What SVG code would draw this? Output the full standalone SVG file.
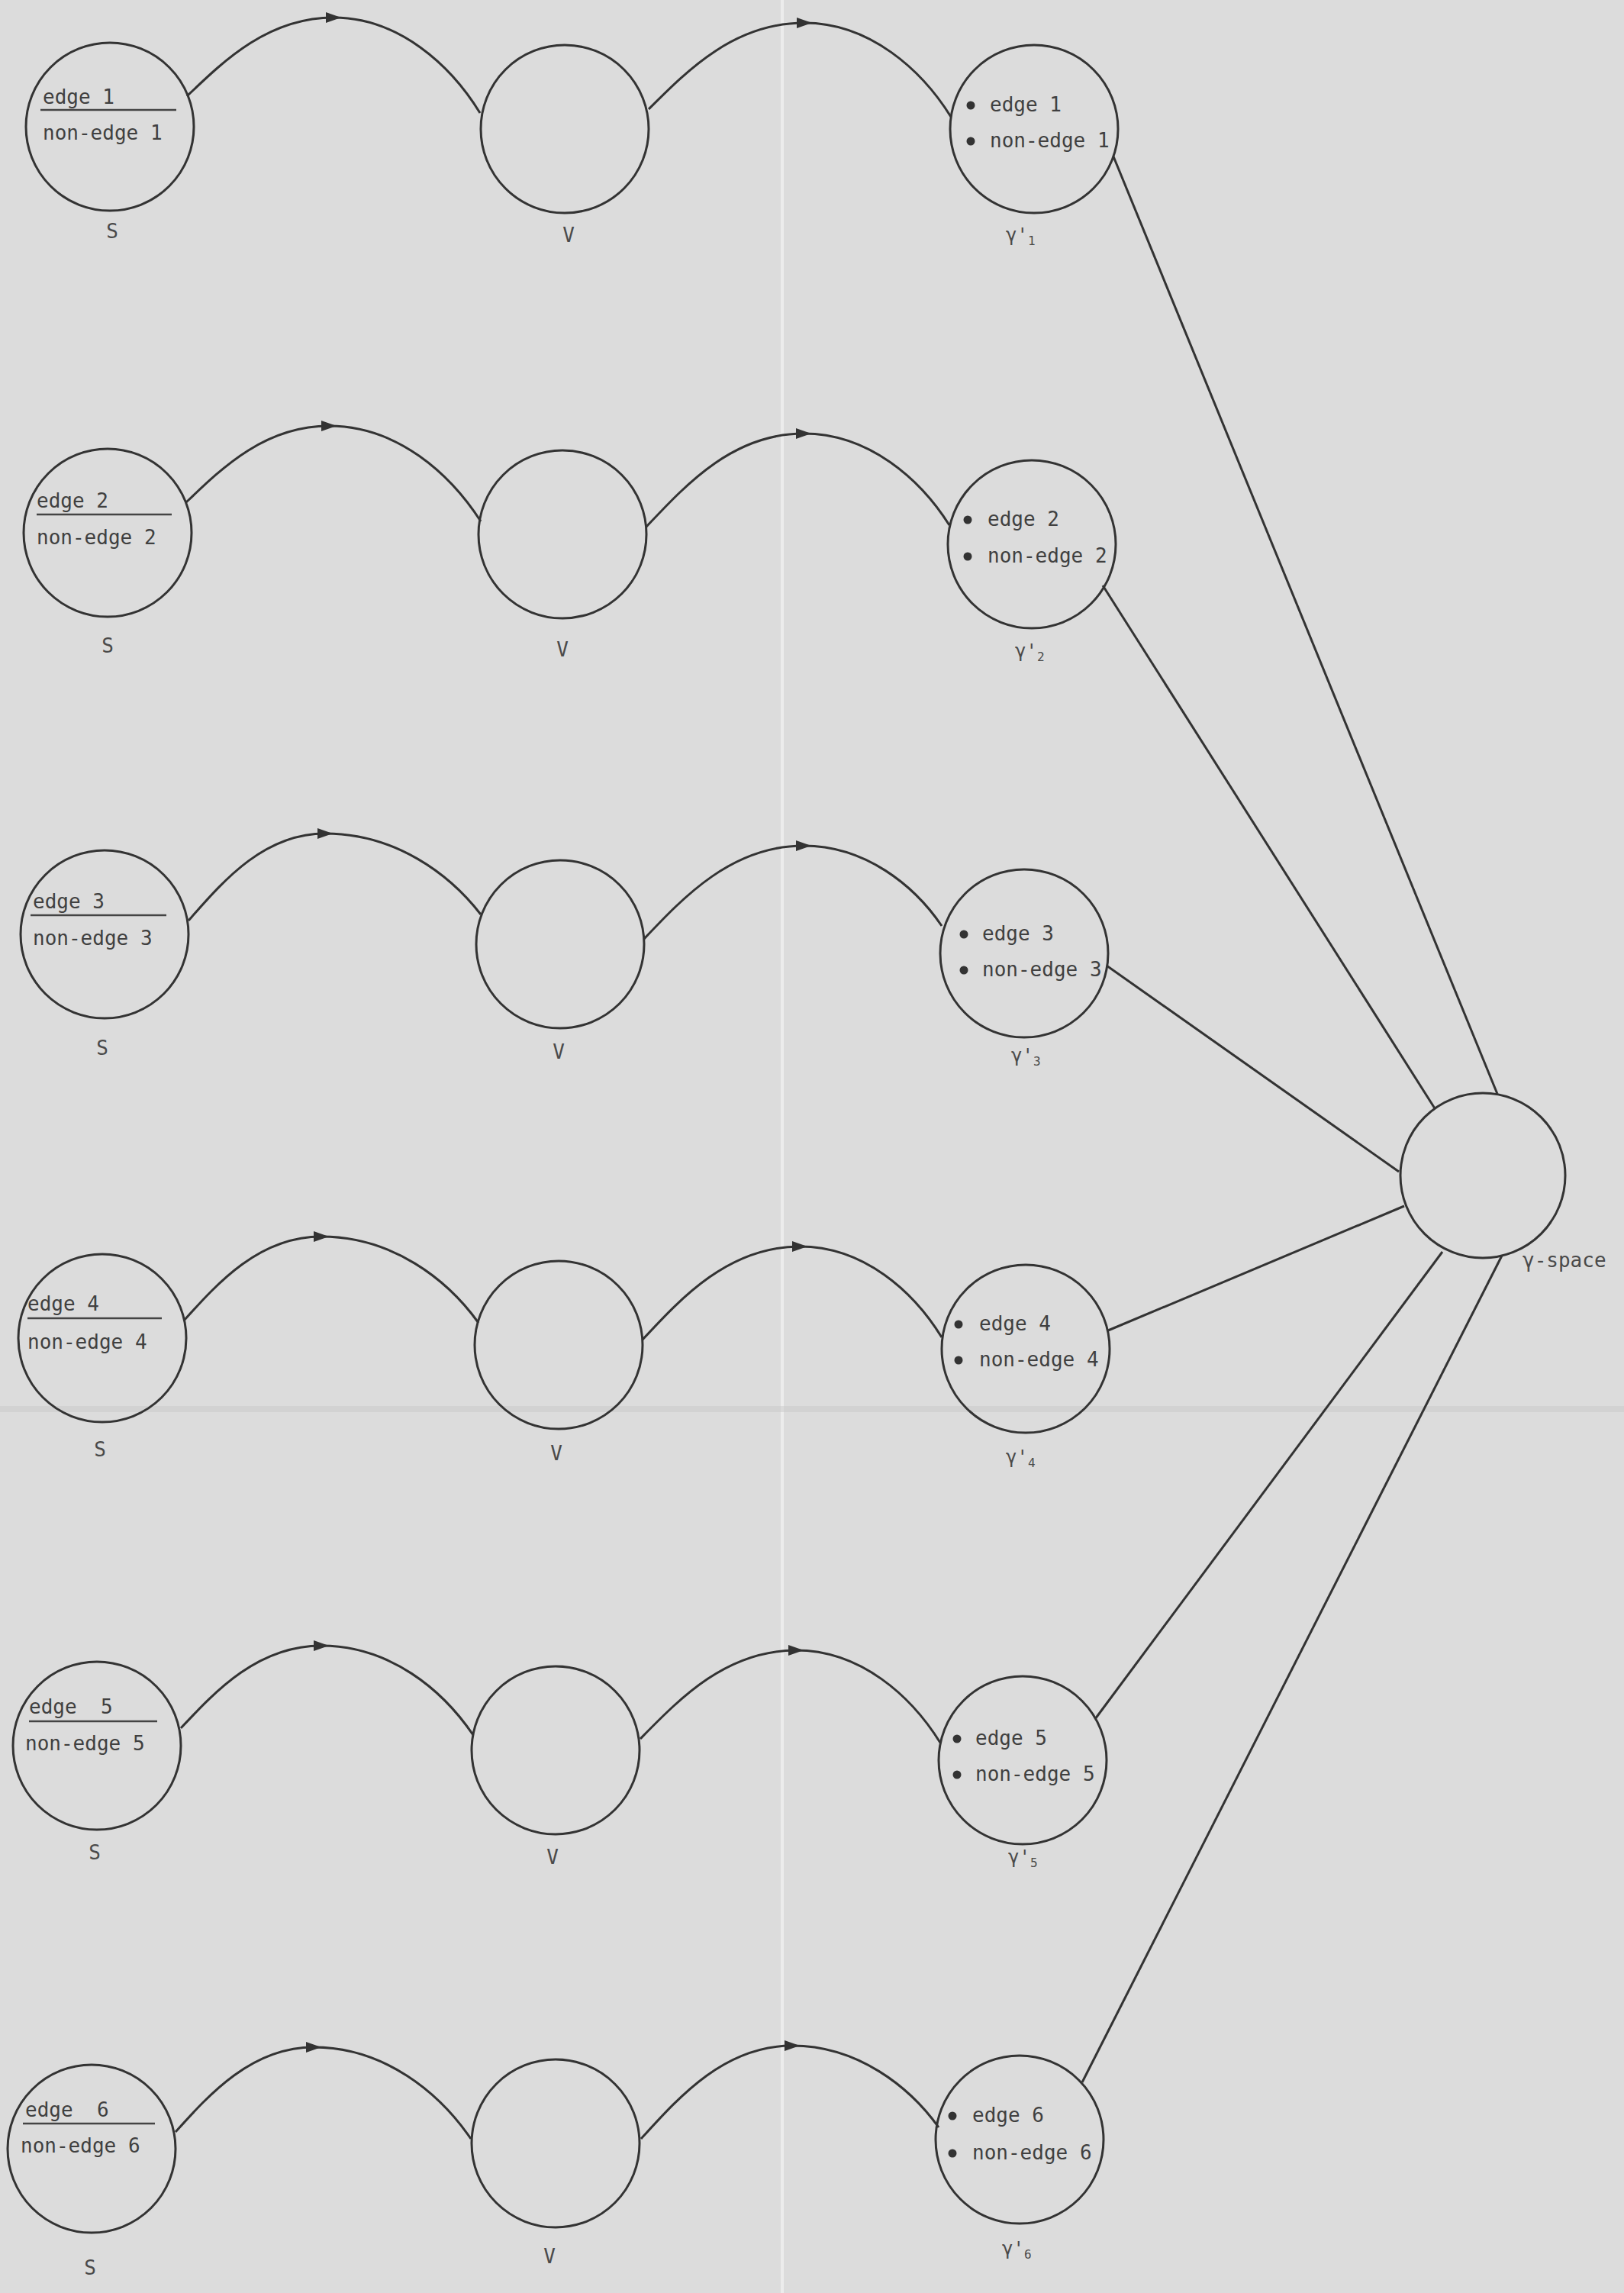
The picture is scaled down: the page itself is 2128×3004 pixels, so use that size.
<svg xmlns="http://www.w3.org/2000/svg" width="2128" height="3004" viewBox="0 0 2128 3004">
  <style>
    .paper { fill: #dcdcdc; }
    .node { fill: none; stroke: #333; stroke-width: 3; }
    .conn { fill: none; stroke: #333; stroke-width: 3; }
    .ul { stroke: #444; stroke-width: 2.5; }
    .txt { font-family: "DejaVu Sans Mono", "Liberation Mono", monospace; font-size: 26px; fill: #404040; }
    .lbl { font-family: "DejaVu Sans Mono", "Liberation Mono", monospace; font-size: 26px; fill: #4a4a4a; }
    .glbl { font-family: "DejaVu Sans Mono", "Liberation Mono", monospace; font-size: 24px; fill: #4a4a4a; }
    .sub { font-size: 16px; }
    .dot { fill: #333; }
  </style>
  <defs>
    <marker id="arrow" viewBox="0 0 20 14" refX="10" refY="7" markerWidth="20" markerHeight="14" markerUnits="userSpaceOnUse" orient="auto">
      <path d="M0,0 L20,7 L0,14 z" fill="#333"/>
    </marker>
  </defs>

  <g id="background">
    <rect class="paper" x="0" y="0" width="2128" height="3004"/>
    <rect x="1023" y="0" width="4" height="3004" fill="#f2f2f2" opacity="0.7"/>
    <rect x="0" y="1842" width="2128" height="8" fill="#c8c8c8" opacity="0.5"/>
  </g>

  <g id="connectors">
    <path class="conn" marker-mid="url(#arrow)" d="M245,126 C293,80 351,23 437,23 C523,23 591,86 629,148"/>
    <path class="conn" marker-mid="url(#arrow)" d="M850,143 C901,92 962,30 1054,30 C1140,30 1208,92 1246,153"/>
    <path class="conn" marker-mid="url(#arrow)" d="M244,658 C291,613 347,558 431,558 C521,558 590,621 630,683"/>
    <path class="conn" marker-mid="url(#arrow)" d="M847,690 C899,635 960,568 1053,568 C1139,568 1206,628 1244,688"/>
    <path class="conn" marker-mid="url(#arrow)" d="M247,1206 C292,1155 345,1092 426,1092 C518,1092 589,1145 630,1198"/>
    <path class="conn" marker-mid="url(#arrow)" d="M844,1230 C896,1175 959,1108 1053,1108 C1134,1108 1198,1160 1234,1213"/>
    <path class="conn" marker-mid="url(#arrow)" d="M241,1730 C286,1680 340,1620 421,1620 C514,1620 586,1676 627,1733"/>
    <path class="conn" marker-mid="url(#arrow)" d="M842,1755 C893,1700 955,1633 1048,1633 C1132,1633 1197,1692 1234,1752"/>
    <path class="conn" marker-mid="url(#arrow)" d="M237,2264 C283,2215 338,2156 421,2156 C511,2156 580,2214 620,2273"/>
    <path class="conn" marker-mid="url(#arrow)" d="M839,2278 C890,2226 951,2162 1043,2162 C1128,2162 1194,2222 1232,2283"/>
    <path class="conn" marker-mid="url(#arrow)" d="M230,2793 C275,2743 330,2682 411,2682 C504,2682 576,2742 617,2802"/>
    <path class="conn" marker-mid="url(#arrow)" d="M840,2802 C890,2747 949,2680 1038,2680 C1124,2680 1192,2734 1230,2787"/>
    <line class="conn" x1="1459" y1="205" x2="1962" y2="1433"/>
    <line class="conn" x1="1445" y1="767" x2="1880" y2="1452"/>
    <line class="conn" x1="1450" y1="1265" x2="1833" y2="1535"/>
    <line class="conn" x1="1452" y1="1743" x2="1840" y2="1580"/>
    <line class="conn" x1="1435" y1="2252" x2="1890" y2="1640"/>
    <line class="conn" x1="1418" y1="2728" x2="1968" y2="1645"/>
  </g>

  <!-- Row 1 -->
  <g id="S1">
    <circle class="node" cx="144" cy="166" r="110"/>
    <text class="txt" x="56" y="136" xml:space="preserve">edge 1</text>
    <line class="ul" x1="53" y1="144" x2="231" y2="144"/>
    <text class="txt" x="56" y="183">non-edge 1</text>
    <text class="lbl" x="147" y="312" text-anchor="middle">S</text>
  </g>
  <g id="V1">
    <circle class="node" cx="740" cy="169" r="110"/>
    <text class="lbl" x="745" y="317" text-anchor="middle">V</text>
  </g>
  <g id="Y1">
    <circle class="node" cx="1355" cy="169" r="110"/>
    <circle class="dot" cx="1272" cy="138" r="5.5"/>
    <text class="txt" x="1297" y="146">edge 1</text>
    <circle class="dot" cx="1272" cy="185" r="5.5"/>
    <text class="txt" x="1297" y="193">non-edge 1</text>
    <text class="glbl" x="1318" y="316">γ'<tspan class="sub" dy="5">1</tspan></text>
  </g>

  <!-- Row 2 -->
  <g id="S2">
    <circle class="node" cx="141" cy="698" r="110"/>
    <text class="txt" x="48" y="665" xml:space="preserve">edge 2</text>
    <line class="ul" x1="48" y1="674" x2="225" y2="674"/>
    <text class="txt" x="48" y="713">non-edge 2</text>
    <text class="lbl" x="141" y="855" text-anchor="middle">S</text>
  </g>
  <g id="V2">
    <circle class="node" cx="737" cy="700" r="110"/>
    <text class="lbl" x="737" y="860" text-anchor="middle">V</text>
  </g>
  <g id="Y2">
    <circle class="node" cx="1352" cy="713" r="110"/>
    <circle class="dot" cx="1268" cy="681" r="5.5"/>
    <text class="txt" x="1294" y="689">edge 2</text>
    <circle class="dot" cx="1268" cy="729" r="5.5"/>
    <text class="txt" x="1294" y="737">non-edge 2</text>
    <text class="glbl" x="1330" y="861">γ'<tspan class="sub" dy="5">2</tspan></text>
  </g>

  <!-- Row 3 -->
  <g id="S3">
    <circle class="node" cx="137" cy="1224" r="110"/>
    <text class="txt" x="43" y="1190" xml:space="preserve">edge 3</text>
    <line class="ul" x1="40" y1="1199" x2="218" y2="1199"/>
    <text class="txt" x="43" y="1238">non-edge 3</text>
    <text class="lbl" x="134" y="1382" text-anchor="middle">S</text>
  </g>
  <g id="V3">
    <circle class="node" cx="734" cy="1237" r="110"/>
    <text class="lbl" x="732" y="1387" text-anchor="middle">V</text>
  </g>
  <g id="Y3">
    <circle class="node" cx="1342" cy="1249" r="110"/>
    <circle class="dot" cx="1263" cy="1224" r="5.5"/>
    <text class="txt" x="1287" y="1232">edge 3</text>
    <circle class="dot" cx="1263" cy="1271" r="5.5"/>
    <text class="txt" x="1287" y="1279">non-edge 3</text>
    <text class="glbl" x="1325" y="1391">γ'<tspan class="sub" dy="5">3</tspan></text>
  </g>

  <!-- Row 4 -->
  <g id="S4">
    <circle class="node" cx="134" cy="1753" r="110"/>
    <text class="txt" x="36" y="1717" xml:space="preserve">edge 4</text>
    <line class="ul" x1="36" y1="1727" x2="212" y2="1727"/>
    <text class="txt" x="36" y="1767">non-edge 4</text>
    <text class="lbl" x="131" y="1908" text-anchor="middle">S</text>
  </g>
  <g id="V4">
    <circle class="node" cx="732" cy="1762" r="110"/>
    <text class="lbl" x="729" y="1913" text-anchor="middle">V</text>
  </g>
  <g id="Y4">
    <circle class="node" cx="1344" cy="1767" r="110"/>
    <circle class="dot" cx="1256" cy="1735" r="5.5"/>
    <text class="txt" x="1283" y="1743">edge 4</text>
    <circle class="dot" cx="1256" cy="1782" r="5.5"/>
    <text class="txt" x="1283" y="1790">non-edge 4</text>
    <text class="glbl" x="1318" y="1917">γ'<tspan class="sub" dy="5">4</tspan></text>
  </g>

  <!-- Row 5 -->
  <g id="S5">
    <circle class="node" cx="127" cy="2287" r="110"/>
    <text class="txt" x="38" y="2245" xml:space="preserve">edge  5</text>
    <line class="ul" x1="38" y1="2255" x2="206" y2="2255"/>
    <text class="txt" x="33" y="2293">non-edge 5</text>
    <text class="lbl" x="124" y="2436" text-anchor="middle">S</text>
  </g>
  <g id="V5">
    <circle class="node" cx="728" cy="2293" r="110"/>
    <text class="lbl" x="724" y="2442" text-anchor="middle">V</text>
  </g>
  <g id="Y5">
    <circle class="node" cx="1340" cy="2306" r="110"/>
    <circle class="dot" cx="1254" cy="2278" r="5.5"/>
    <text class="txt" x="1278" y="2286">edge 5</text>
    <circle class="dot" cx="1254" cy="2325" r="5.5"/>
    <text class="txt" x="1278" y="2333">non-edge 5</text>
    <text class="glbl" x="1321" y="2441">γ'<tspan class="sub" dy="5">5</tspan></text>
  </g>

  <!-- Row 6 -->
  <g id="S6">
    <circle class="node" cx="120" cy="2815" r="110"/>
    <text class="txt" x="33" y="2773" xml:space="preserve">edge  6</text>
    <line class="ul" x1="30" y1="2782" x2="203" y2="2782"/>
    <text class="txt" x="27" y="2820">non-edge 6</text>
    <text class="lbl" x="118" y="2980" text-anchor="middle">S</text>
  </g>
  <g id="V6">
    <circle class="node" cx="728" cy="2808" r="110"/>
    <text class="lbl" x="720" y="2965" text-anchor="middle">V</text>
  </g>
  <g id="Y6">
    <circle class="node" cx="1336" cy="2803" r="110"/>
    <circle class="dot" cx="1248" cy="2772" r="5.5"/>
    <text class="txt" x="1274" y="2780">edge 6</text>
    <circle class="dot" cx="1248" cy="2821" r="5.5"/>
    <text class="txt" x="1274" y="2829">non-edge 6</text>
    <text class="glbl" x="1313" y="2954">γ'<tspan class="sub" dy="5">6</tspan></text>
  </g>

  <!-- gamma-space -->
  <g id="gamma-space">
    <circle class="node" cx="1943" cy="1540" r="108"/>
    <text class="lbl" x="1995" y="1660">γ-space</text>
  </g>
</svg>
